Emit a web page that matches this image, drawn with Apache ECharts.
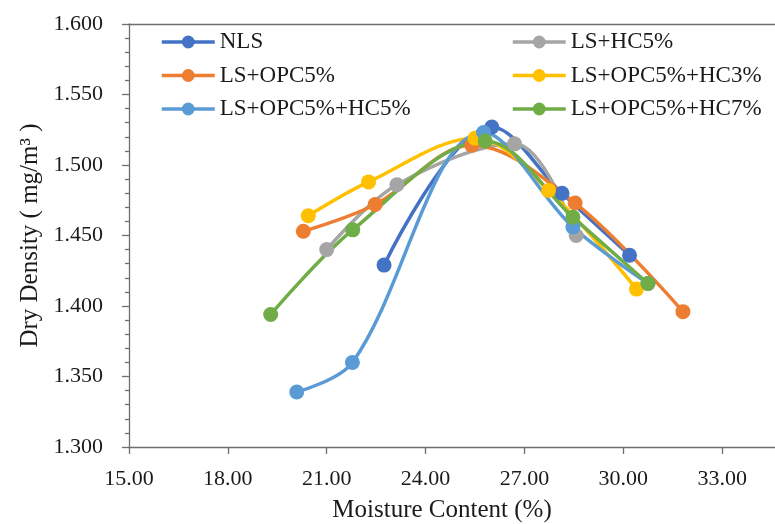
<!DOCTYPE html>
<html>
<head>
<meta charset="utf-8">
<script src="https://cdn.jsdelivr.net/npm/echarts@6/dist/echarts.min.js"></script>
<style>
  html, body { margin: 0; padding: 0; background: #fff; }
  #chart { width: 775px; height: 524px; }
</style>
</head>
<body>
<div id="chart"></div>
<script>
// series names, in the order the original workbook plots them
const names = ['NLS', 'LS+HC5%', 'LS+OPC5%', 'LS+OPC5%+HC3%', 'LS+OPC5%+HC5%', 'LS+OPC5%+HC7%']
const colors = ['#4472C4', '#A5A5A5', '#ED7D31', '#FFC000', '#5B9BD5', '#70AD47']

// moisture content (%) and dry density (mg/m3)
const nlsX = [22.74, 26.01, 28.14, 30.19]
const nlsY = [1.429, 1.527, 1.480, 1.436]
const hc5X = [21.00, 23.13, 26.70, 28.57]
const hc5Y = [1.440, 1.486, 1.515, 1.450]
const opc5X = [20.29, 22.47, 25.40, 28.54, 31.81]
const opc5Y = [1.453, 1.472, 1.514, 1.473, 1.396]
const opcHc3X = [20.44, 22.27, 25.50, 27.73, 30.40]
const opcHc3Y = [1.464, 1.488, 1.519, 1.482, 1.412]
const opcHc5X = [20.09, 21.78, 25.76, 28.47, 30.75]
const opcHc5Y = [1.339, 1.360, 1.523, 1.456, 1.416]
const opcHc7X = [19.30, 21.79, 25.81, 28.47, 30.75]
const opcHc7Y = [1.394, 1.454, 1.517, 1.463, 1.416]

const xs = [nlsX, hc5X, opc5X, opcHc3X, opcHc5X, opcHc7X]
const ys = [nlsY, hc5Y, opc5Y, opcHc3Y, opcHc5Y, opcHc7Y]

const font = '"Liberation Serif", "Times New Roman", serif'
const axisColor = '#6e6e6e'
const textColor = '#1a1a1a'

const myChart = echarts.init(document.getElementById('chart'))

const legendBase = {
  orient: 'vertical',
  top: 29,
  padding: 0,
  itemWidth: 53,
  itemHeight: 16,
  itemGap: 7.5,
  lineStyle: { width: 3.5 },
  textStyle: { fontFamily: font, fontSize: 23, color: textColor, lineHeight: 26 }
}

myChart.setOption({
  animation: false,
  color: colors,
  grid: {
    left: 129,
    top: 24,
    bottom: 77,
    right: -46,
    outerBoundsMode: 'none'
  },
  legend: [
    Object.assign({ left: 160, data: [names[0], names[2], names[4]] }, legendBase),
    Object.assign({ left: 511, data: [names[1], names[3], names[5]] }, legendBase)
  ],
  xAxis: [
    {
      type: 'value',
      min: 15,
      max: 36,
      interval: 3,
      name: 'Moisture Content (%)',
      nameLocation: 'middle',
      nameGap: 51,
      nameTextStyle: { fontFamily: font, fontSize: 25, color: textColor, padding: [0, 66, 0, 0] },
      axisLine: { lineStyle: { color: axisColor, width: 1.3 } },
      axisTick: { length: 7, lineStyle: { color: axisColor, width: 1.3 } },
      axisLabel: {
        margin: 21,
        fontFamily: font,
        fontSize: 22,
        color: textColor,
        formatter: v => v.toFixed(2)
      },
      splitLine: { show: false }
    },
    {
      // only the top frame line of the plot area
      type: 'value',
      position: 'top',
      min: 15,
      max: 36,
      axisLine: { show: true, lineStyle: { color: axisColor, width: 1.3 } },
      axisTick: { show: false },
      axisLabel: { show: false },
      splitLine: { show: false }
    }
  ],
  yAxis: {
    type: 'value',
    min: 1.3,
    max: 1.6,
    interval: 0.05,
    name: 'Dry Density ( mg/m³ )',
    nameLocation: 'middle',
    nameGap: 86,
    nameTextStyle: { fontFamily: font, fontSize: 25, color: textColor },
    axisLine: { show: true, lineStyle: { color: axisColor, width: 1.3 } },
    axisTick: { show: true, length: 7, lineStyle: { color: axisColor, width: 1.3 } },
    minorTick: { show: true, splitNumber: 5, length: 4, lineStyle: { color: axisColor, width: 1.3 } },
    axisLabel: {
      margin: 26,
      fontFamily: font,
      fontSize: 22,
      color: textColor,
      formatter: v => v.toFixed(3)
    },
    splitLine: { show: false }
  },
  series: names.map((name, i) => ({
    name: name,
    type: 'line',
    smooth: 0.35,
    symbol: 'circle',
    symbolSize: 15,
    lineStyle: { width: 3.5, color: colors[i] },
    itemStyle: { color: colors[i] },
    data: xs[i].map((x, j) => [x, ys[i][j]])
  }))
})
</script>
</body>
</html>
